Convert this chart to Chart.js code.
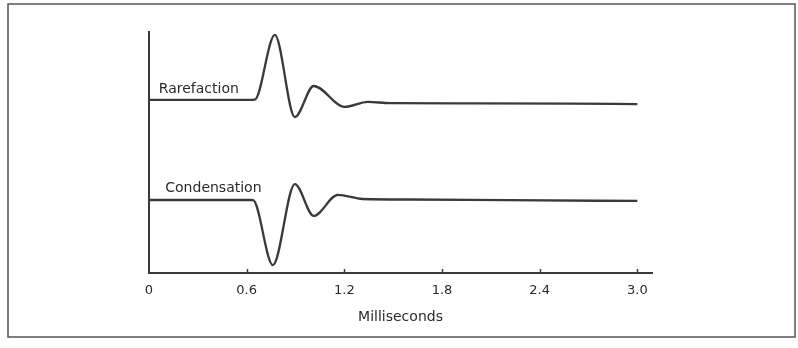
<!DOCTYPE html>
<html>
<head>
<meta charset="utf-8">
<script src="https://cdn.jsdelivr.net/npm/chart.js@4.4.1/dist/chart.umd.min.js"></script>
<style>
  html, body { margin: 0; padding: 0; background: #fff; }
  #wrap { width: 798px; height: 348px; }
</style>
</head>
<body>
<div id="wrap"><canvas id="waveChart" width="798" height="348"></canvas></div>
<script>
// time in milliseconds, amplitude in arbitrary units (traces are offset)
let rarefactionTime  = [0, 0.62, 0.65, 0.773, 0.896, 1.012, 1.202, 1.344, 1.48, 2.0, 2.6, 3.0];
let rarefactionValue = [7.18, 7.18, 7.19, 9.88, 6.47, 7.76, 6.89, 7.10, 7.05, 7.04, 7.03, 7.01];

let condensationTime  = [0, 0.62, 0.64, 0.761, 0.896, 1.012, 1.16, 1.313, 1.6, 2.2, 3.0];
let condensationValue = [3.03, 3.03, 3.02, 0.33, 3.69, 2.37, 3.24, 3.07, 3.05, 3.02, 2.99];

let xTicks = [0, 0.6, 1.2, 1.8, 2.4, 3.0];
let xTickLabels = ['0', '0.6', '1.2', '1.8', '2.4', '3.0'];

let traceNames = ['Rarefaction', 'Condensation'];

function toPoints(xs, ys) {
    let pts = [];
    for (let i = 0; i < xs.length; i++) {
        pts.push({ x: xs[i], y: ys[i] });
    }
    return pts;
}

const ink = '#3a3a3a';
const fontFamily = '"DejaVu Sans", "Liberation Sans", sans-serif';

// outer frame, tick marks and trace names
const extras = {
    id: 'extras',
    beforeDraw(chart) {
        let ctx = chart.ctx;
        ctx.save();
        ctx.strokeStyle = '#555';
        ctx.lineWidth = 1.5;
        ctx.strokeRect(8, 4, 787, 333);
        ctx.restore();
    },
    afterDraw(chart) {
        let ctx = chart.ctx;
        let xs = chart.scales.x;
        let ys = chart.scales.y;
        ctx.save();
        ctx.strokeStyle = ink;
        ctx.lineWidth = 1.5;
        for (let i = 1; i < xTicks.length; i++) {
            let px = Math.round(xs.getPixelForValue(xTicks[i])) + 0.5;
            ctx.beginPath();
            ctx.moveTo(px, ys.bottom);
            ctx.lineTo(px, ys.bottom - 4);
            ctx.stroke();
        }
        ctx.fillStyle = '#2a2a2a';
        ctx.font = '14px ' + fontFamily;
        ctx.textBaseline = 'middle';
        ctx.fillText(traceNames[0], xs.getPixelForValue(0.06), ys.getPixelForValue(7.6));
        ctx.fillText(traceNames[1], xs.getPixelForValue(0.1), ys.getPixelForValue(3.5));
        ctx.restore();
    }
};

let ctxWave = document.getElementById('waveChart').getContext('2d');

let waveChart = new Chart(ctxWave, {
    type: 'line',
    data: {
        datasets: [{
            label: traceNames[0],
            data: toPoints(rarefactionTime, rarefactionValue),
            borderColor: ink,
            borderWidth: 2.3,
            pointRadius: 0,
            cubicInterpolationMode: 'monotone',
            fill: false
        }, {
            label: traceNames[1],
            data: toPoints(condensationTime, condensationValue),
            borderColor: ink,
            borderWidth: 2.3,
            pointRadius: 0,
            cubicInterpolationMode: 'monotone',
            fill: false
        }]
    },
    options: {
        responsive: false,
        animation: false,
        layout: {
            padding: { left: 149, right: 146, top: 32, bottom: 0 }
        },
        plugins: {
            legend: { display: false },
            tooltip: { enabled: false }
        },
        scales: {
            x: {
                type: 'linear',
                min: 0,
                max: 3.09,
                afterBuildTicks: function (scale) {
                    scale.ticks = xTicks.map(function (v) { return { value: v }; });
                },
                afterFit: function (scale) {
                    scale.height = 75;
                },
                ticks: {
                    color: '#2a2a2a',
                    padding: 2,
                    maxRotation: 0,
                    font: { family: fontFamily, size: 13 },
                    callback: function (value) {
                        return xTickLabels[xTicks.indexOf(value)];
                    }
                },
                grid: { display: false },
                border: { display: true, color: ink, width: 2 },
                title: {
                    display: true,
                    text: 'Milliseconds',
                    color: '#2a2a2a',
                    font: { family: fontFamily, size: 14 },
                    padding: { top: 0, bottom: 22 }
                }
            },
            y: {
                min: 0,
                max: 10,
                afterFit: function (scale) {
                    scale.width = 0;
                },
                ticks: { display: false },
                grid: { display: false },
                border: { display: true, color: ink, width: 2 }
            }
        }
    },
    plugins: [extras]
});
</script>
</body>
</html>
